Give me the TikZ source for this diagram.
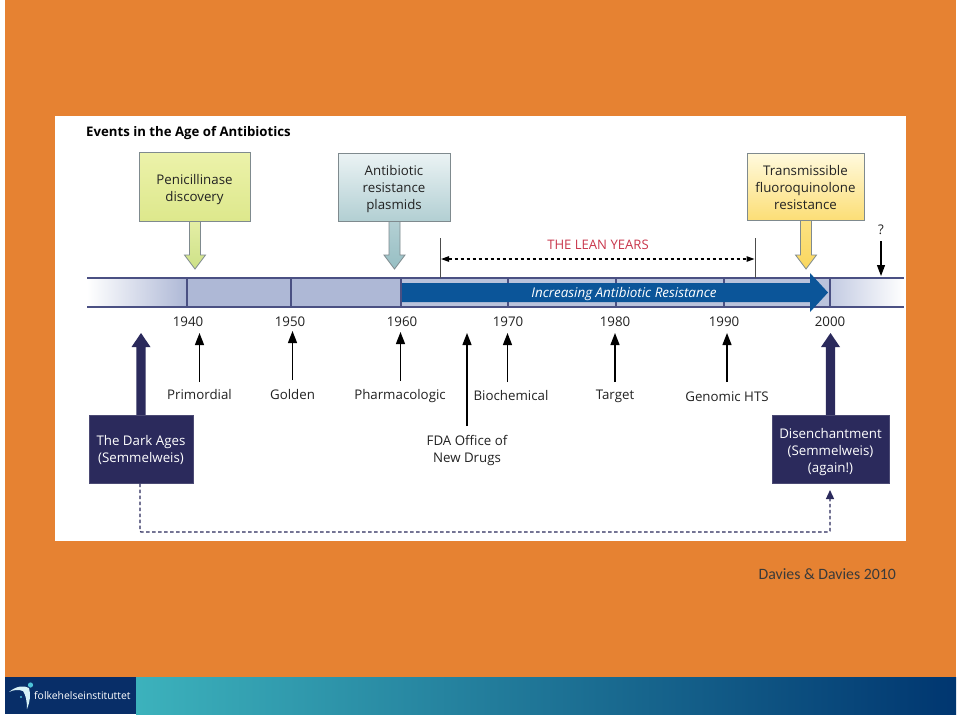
\documentclass[tikz,border=0pt]{standalone}
\usepackage{fontspec}
\setmainfont{Open Sans}
\newfontfamily\calibrifont{Carlito}
\usetikzlibrary{arrows.meta,calc}
\definecolor{slideorange}{HTML}{E68232}
\definecolor{darkbox}{HTML}{2B2A5C}
\definecolor{barline}{HTML}{4A5083}
\definecolor{barfill}{HTML}{AEB8D6}
\definecolor{barlight}{HTML}{C3CBE2}
\definecolor{resblue}{HTML}{0B5599}
\definecolor{leanred}{HTML}{C9374C}
\definecolor{boxedge}{HTML}{7F8A8E}
\definecolor{txt}{HTML}{222222}
\definecolor{footteal}{HTML}{3CB2BC}
\definecolor{footnavy}{HTML}{003670}
\definecolor{logonavy}{HTML}{082E68}
\definecolor{logolight}{HTML}{D8F2F6}
\definecolor{logocyan}{HTML}{4DC3D8}
\definecolor{creditcol}{HTML}{3A3A3A}
\definecolor{greenT}{HTML}{ECF2AA}
\definecolor{greenB}{HTML}{DDE88C}
\definecolor{greenAT}{HTML}{E4EEA5}
\definecolor{greenAB}{HTML}{CDE187}
\definecolor{tealT}{HTML}{EBF3F4}
\definecolor{tealB}{HTML}{B2CFD3}
\definecolor{tealAT}{HTML}{B4D0D4}
\definecolor{tealAB}{HTML}{96BEC3}
\definecolor{yelT}{HTML}{FFFADE}
\definecolor{yelB}{HTML}{FCDE76}
\definecolor{yelAT}{HTML}{FCE282}
\definecolor{yelAB}{HTML}{FAD75F}
\tikzset{
  lbl/.style={font=\fontsize{13.3}{17}\selectfont,text=txt,align=center,inner sep=0pt},
  year/.style={lbl},
  darknode/.style={fill=darkbox,draw=darkbox!85!white,line width=.4pt,text=white,align=center,inner sep=0pt,
     font=\fontsize{13.3}{17}\selectfont,minimum height=68pt},
  callout/.style={draw=boxedge,line width=.9pt,align=center,inner sep=0pt,text=txt,
     font=\fontsize{13.3}{17}\selectfont},
  eventarrow/.style={-{Triangle[length=12pt,width=9pt]},line width=1.3pt,black},
  barrule/.style={barline,line width=1.4pt},
  tick/.style={barline,line width=1.1pt},
  dashlink/.style={darkbox,line width=1.3pt,dash pattern=on 3.5pt off 2.5pt},
}
\newcommand{\downblock}[3]{% x, top y, style
  \path[#3] (#1-5.5,#2) -- (#1+5.5,#2) -- (#1+5.5,255) -- (#1+10.5,255) -- (#1,269) -- (#1-10.5,255) -- (#1-5.5,255) -- cycle;}
\newcommand{\upblock}[2]{% x, base y
  \fill[darkbox] (#1-4.7,#2) -- (#1+4.7,#2) -- (#1+4.7,347) -- (#1+9.5,347) -- (#1,333) -- (#1-9.5,347) -- (#1-4.7,347) -- cycle;}
\newcommand{\lift}[1]{\rule{0pt}{#1pt}}
\begin{document}
\begin{tikzpicture}[x=1pt,y=-1pt]
\useasboundingbox (0,0) rectangle (960,716);
\fill[white] (0,0) rectangle (960,716);
\fill[slideorange] (5,0) rectangle (956,677);
\fill[white] (55,116) rectangle (906,541);
% footer
\shade[left color=footteal,right color=footnavy] (136,677) rectangle (956,714);
\fill[logonavy] (5,677) rectangle (136,714);
\fill[logolight] (9,692) .. controls (16,686) and (24,685) .. (29,688) .. controls (31,694) and (30,702) .. (27,709) .. controls (27,702) and (26,695) .. (23,691) .. controls (18,689) and (13,690) .. (9,692) -- cycle;
\fill[logocyan] (30.5,685) circle (2.6);
\fill[logocyan] (21,697) circle (1.2);
\node[anchor=west,inner sep=0pt,text=white,font=\fontsize{10.4}{12}\selectfont] (logo) at (34,696) {folkehelseinstituttet};
% title
\node[anchor=west,inner sep=0pt,text=black,font=\bfseries\fontsize{13.2}{15}\selectfont] (title) at (86,133.5) {Events in the Age of Antibiotics};
% bar
\fill[barfill] (187,278) rectangle (401,307);
\shade[left color=white,right color=barfill] (87,278) rectangle (187,307);
\fill[barfill!85!white] (401,278) rectangle (830,307);
\shade[left color=barlight,right color=white] (830,278) rectangle (904,307);
\draw[barrule] (87,278) -- (904,278);
\draw[barrule] (87,307) -- (904,307);
\foreach \x in {187,291,401,508,616,724,830} \draw[tick] (\x,278) -- (\x,307);
\fill[resblue] (402,283) -- (810,283) -- (810,273) -- (828,292.5) -- (810,312) -- (810,302) -- (402,302) -- cycle;
\node[text=white,inner sep=0pt,font=\itshape\fontsize{13.4}{14}\selectfont] (increasing) at (624,294.5) {Increasing Antibiotic Resistance};
% callouts
\downblock{195}{221}{draw=boxedge,line width=.8pt,top color=greenAT,bottom color=greenAB}
\node[callout,minimum width=111pt,minimum height=69pt,top color=greenT,bottom color=greenB] (penicillinase) at (194.5,186.5) {\lift{15.5}Penicillinase\\discovery};
\downblock{394.5}{221}{draw=boxedge,line width=.8pt,top color=tealAT,bottom color=tealAB}
\node[callout,minimum width=112pt,minimum height=68pt,top color=tealT,bottom color=tealB] (plasmids) at (394,187) {\lift{13.5}Antibiotic\\resistance\\plasmids};
\downblock{806}{220}{draw=boxedge,line width=.8pt,top color=yelAT,bottom color=yelAB}
\node[callout,minimum width=117pt,minimum height=67pt,top color=yelT,bottom color=yelB] (fluoro) at (805.5,186.5) {\lift{12.5}Transmissible\\fluoroquinolone\\resistance};
% lean years
\coordinate (leanA) at (440,238);
\coordinate (leanAb) at (440,278);
\coordinate (leanB) at (755,238);
\coordinate (leanBb) at (755,278);
\draw[black!70,line width=.6pt] (leanA) -- (leanAb);
\draw[black!70,line width=.6pt] (leanB) -- (leanBb);
\draw[black,line width=1.2pt,dash pattern=on 3.5pt off 2.5pt,{Triangle[length=8pt,width=5.5pt]}-{Triangle[length=8pt,width=5.5pt]}] (441,259) -- (754.5,259);
\node[text=leanred,inner sep=0pt,font=\fontsize{13.1}{14}\selectfont] (lean) at (598,245) {THE LEAN YEARS};
% question
\node[lbl] (question) at (881,230) {?};
\coordinate (qtip) at (881,276);
\draw[black,line width=1.2pt,-{Triangle[length=11pt,width=8pt]}] (881,241) -- (qtip);
% years
\node[year] (y1940) at (188,321.5) {1940};
\node[year] (y1950) at (290,321.5) {1950};
\node[year] (y1960) at (402,321.5) {1960};
\node[year] (y1970) at (508,321.5) {1970};
\node[year] (y1980) at (615,321.5) {1980};
\node[year] (y1990) at (724,321.5) {1990};
\node[year] (y2000) at (830,321.5) {2000};
% event labels
\node[lbl] (primordial) at (199.5,395) {Primordial};
\node[lbl] (golden) at (292.5,394.5) {Golden};
\node[lbl] (pharma) at (400,396) {Pharmacologic};
\node[lbl] (fda) at (467,450) {FDA Office of\\New Drugs};
\node[lbl] (biochem) at (511,396) {Biochemical};
\node[lbl] (target) at (615,396.5) {Target};
\node[lbl] (genomic) at (727,396.5) {Genomic HTS};
\coordinate (tPrim) at (199.5,333);
\coordinate (tGold) at (292.5,331);
\coordinate (tPharm) at (400.5,332);
\coordinate (tFda) at (467,333);
\coordinate (tBio) at (507.5,333);
\coordinate (tTarg) at (615,333);
\coordinate (tGen) at (727,333);
\draw[eventarrow] (199.5,382) -- (tPrim);
\draw[eventarrow] (292.5,380) -- (tGold);
\draw[eventarrow] (400.5,381) -- (tPharm);
\draw[eventarrow] (467,426) -- (tFda);
\draw[eventarrow] (507.5,382) -- (tBio);
\draw[eventarrow] (615,382) -- (tTarg);
\draw[eventarrow] (727,382) -- (tGen);
% dark boxes
\upblock{141}{415}
\upblock{830.5}{415}
\node[darknode,minimum width=104pt] (dark) at (141,449.5) {\lift{11.5}The Dark Ages\\(Semmelweis)};
\node[darknode,minimum width=117pt] (disen) at (830.5,449.5) {\lift{15.5}Disenchantment\\(Semmelweis)\\(again!)};
\coordinate (dashtip) at (830,490);
\draw[dashlink,-{Triangle[length=9pt,width=8pt]},rounded corners=1pt] (140,483.5) -- (140,532) -- (830,532) -- (dashtip);
% credit
\node[anchor=east,inner sep=0pt,text=creditcol,font=\calibrifont\fontsize{15.8}{18}\selectfont] (credit) at (896,574) {Davies \& Davies 2010};
\end{tikzpicture}
\end{document}
